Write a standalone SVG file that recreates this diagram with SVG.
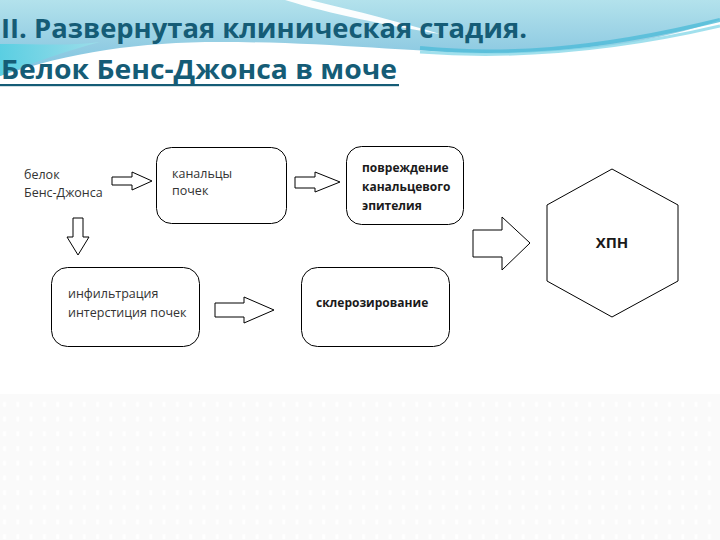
<svg xmlns="http://www.w3.org/2000/svg" width="720" height="540" viewBox="0 0 720 540">
  <defs>
    <linearGradient id="sky" x1="0" y1="0" x2="0" y2="1">
      <stop offset="0" stop-color="#b3e2ec"/>
      <stop offset="0.6" stop-color="#93cde3"/>
      <stop offset="1" stop-color="#7cc3e0"/>
    </linearGradient>
    <linearGradient id="aqua" x1="0" y1="0" x2="1" y2="0">
      <stop offset="0" stop-color="#55cfe2"/>
      <stop offset="1" stop-color="#9edfea"/>
    </linearGradient>
    <pattern id="dots" x="0" y="0" width="13.3" height="14.7" patternUnits="userSpaceOnUse">
      <rect width="13.3" height="14.7" fill="#fafafa"/>
      <rect x="3" y="5" width="3" height="5" fill="#ffffff"/>
    </pattern>
    <style>
      .box { fill: #ffffff; stroke: #000000; stroke-width: 1; }
      .arr { fill: #ffffff; stroke: #000000; stroke-width: 1; stroke-linejoin: miter; }
      .t { font-family: "Open Sans", "Liberation Sans", sans-serif; font-size: 12.5px; fill: #333333; }
      .tb { font-family: "Open Sans", "Liberation Sans", sans-serif; font-size: 12px; font-weight: bold; fill: #1a1a1a; }
      .title { font-family: "Open Sans", "Liberation Sans", sans-serif; font-size: 27px; font-weight: bold; fill: #155c76; }
    </style>
  </defs>

  <!-- background -->
  <rect width="720" height="540" fill="#ffffff"/>
  <rect x="0" y="394" width="720" height="146" fill="url(#dots)"/>
  <g id="header-bg">
    <path d="M0,0 H720 V20 C650,44 570,54 480,53 C400,51 320,42 220,42 C140,42 70,52 0,76 Z" fill="url(#sky)"/>
    <path d="M0,44 C40,44 70,46 100,42 C70,50 40,60 0,76 Z" fill="url(#aqua)" opacity="0.9"/>
    <path d="M420,48 C500,56 590,52 720,20" fill="none" stroke="#4fbcd8" stroke-width="4" opacity="0.8"/>
    <path d="M420,52 C500,58 600,54 720,26" fill="none" stroke="#8ad8e8" stroke-width="3" opacity="0.8"/>
    <path d="M285,0 L310,0 C360,12 400,22 440,34 C390,26 330,14 285,0 Z" fill="#ffffff" opacity="0.95"/>
  </g>

  <!-- title -->
  <g id="title">
    <text class="title" x="1" y="38" textLength="526" lengthAdjust="spacingAndGlyphs">II. Развернутая клиническая стадия.</text>
    <text class="title" x="1" y="79" textLength="396" lengthAdjust="spacingAndGlyphs">Белок Бенс-Джонса в моче</text>
    <rect x="0" y="84" width="399" height="2.2" fill="#155c76"/>
  </g>

  <!-- nodes -->
  <g id="n-belok">
    <text class="t" x="24" y="179">белок</text>
    <text class="t" x="24" y="197">Бенс-Джонса</text>
  </g>
  <g id="n-kanaltsy">
    <rect class="box" x="156.5" y="147.5" width="130" height="76" rx="15" ry="15"/>
    <text class="t" x="172" y="178">канальцы</text>
    <text class="t" x="172" y="195">почек</text>
  </g>
  <g id="n-povrezhdenie">
    <rect class="box" x="346.5" y="146.5" width="117" height="78" rx="15" ry="15"/>
    <text class="tb" x="362" y="172">повреждение</text>
    <text class="tb" x="362" y="191">канальцевого</text>
    <text class="tb" x="362" y="210">эпителия</text>
  </g>
  <g id="n-hpn">
    <polygon class="box" points="612,169 678,205 678,281 612,317 547,281 547,205"/>
    <text class="tb" x="612" y="248" text-anchor="middle" style="font-size:15px">ХПН</text>
  </g>
  <g id="n-infiltratsiya">
    <rect class="box" x="51.5" y="267.5" width="148" height="79" rx="16" ry="16"/>
    <text class="t" x="68" y="298">инфильтрация</text>
    <text class="t" x="68" y="317">интерстиция почек</text>
  </g>
  <g id="n-skleroz">
    <rect class="box" x="301.5" y="267.5" width="148" height="79" rx="16" ry="16"/>
    <text class="tb" x="316" y="307">склерозирование</text>
  </g>

  <!-- connectors (block arrows) -->
  <g id="connectors">
    <polygon class="arr" points="112,177 132,177 132,172 152,181 132,190 132,185 112,185"/>
    <polygon class="arr" points="295,177 315,177 315,172 340,182 315,192 315,188 295,188"/>
    <polygon class="arr" points="473,230 502,230 502,217 530,243 502,270 502,257 473,257"/>
    <polygon class="arr" points="73,218 83,218 83,237 89,237 78,255 67,237 73,237"/>
    <polygon class="arr" points="215,303 244,303 244,297 274,310 244,323 244,317 215,317"/>
  </g>
</svg>
